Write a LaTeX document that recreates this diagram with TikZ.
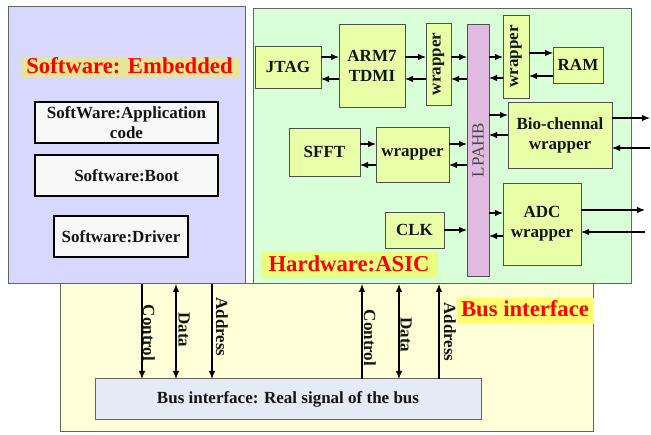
\documentclass[tikz,border=0pt]{standalone}
\usepackage{fontspec}
\setmainfont{Liberation Serif}
\usetikzlibrary{arrows.meta}
\definecolor{swbg}{RGB}{216,216,255}
\definecolor{hwbg}{RGB}{216,255,216}
\definecolor{busbg}{RGB}{255,255,216}
\definecolor{blkfill}{RGB}{232,255,168}
\definecolor{lpfill}{RGB}{224,186,224}
\definecolor{swfill}{RGB}{248,248,248}
\definecolor{innerbus}{RGB}{228,234,246}
\definecolor{frameline}{RGB}{100,100,100}
\definecolor{blkline}{RGB}{80,80,80}
\definecolor{hlsw}{RGB}{230,230,150}
\definecolor{hlhw}{RGB}{232,255,128}
\definecolor{hlbus}{RGB}{255,255,110}
\definecolor{txt}{RGB}{20,20,20}
\definecolor{lptxt}{RGB}{70,70,70}
\newcommand\blkfont{\fontsize{17}{20}\selectfont\bfseries}
\newcommand\redfont{\fontsize{22.7}{26}\selectfont\bfseries}
\begin{document}
\begin{tikzpicture}[x=1pt,y=-1pt,
  every node/.style={inner sep=0pt, outer sep=0pt},
  frame/.style={draw=frameline, line width=1pt},
  blk/.style={draw=blkline, fill=blkfill, line width=0.9pt, font=\blkfont, text=txt, align=center},
  swb/.style={draw=black, fill=swfill, line width=1.5pt, font=\blkfont, text=txt, align=center},
  arr/.style={-{Latex[length=8pt,width=6.5pt]}, line width=1.2pt, draw=black},
  darr/.style={{Latex[length=8pt,width=6.5pt]}-{Latex[length=8pt,width=6.5pt]}, line width=1.2pt, draw=black},
  redlbl/.style={font=\redfont, text=red, anchor=base},
  buslbl/.style={font=\blkfont, text=txt, rotate=-90}]
\useasboundingbox (0,0) rectangle (651,435);
% big frames
\node[frame, fill=busbg, minimum width=533pt, minimum height=148pt] (bus) at (326.5,358) {};
\node[frame, fill=swbg, minimum width=237pt, minimum height=277pt] (sw) at (126.5,145.5) {};
\node[frame, fill=hwbg, minimum width=378pt, minimum height=275pt] (hw) at (442,146.5) {};
% software
\node[fill=hlsw, minimum width=217pt, minimum height=20pt] (swhl) at (130.5,67) {};
\node[redlbl] (swtxt) at (129.5,74) {Software: Embedded};
\node[swb, minimum width=183pt, minimum height=41pt] (app) at (126.5,122.5) {SoftWare:Application\\code};
\node[swb, minimum width=183pt, minimum height=41pt] (boot) at (126.5,175.5) {Software:Boot};
\node[swb, minimum width=134pt, minimum height=41pt] (drv) at (121,236.5) {Software:Driver};
% hardware blocks
\node[blk, minimum width=66pt, minimum height=42pt] (jtag) at (288,67) {JTAG};
\node[blk, minimum width=66pt, minimum height=83pt] (arm) at (372,65.5) {ARM7\\TDMI};
\node[blk, minimum width=25pt, minimum height=82pt] (w1) at (438.5,64) {\rotatebox{90}{wrapper}};
\node[draw=blkline, fill=lpfill, line width=0.9pt, minimum width=22pt, minimum height=252pt,
      font=\fontsize{17}{20}\selectfont, text=lptxt] (lp) at (478,150) {\rotatebox{90}{LPAHB}};
\node[blk, minimum width=26pt, minimum height=83pt] (w2) at (516,56.5) {\rotatebox{90}{wrapper}};
\node[blk, minimum width=50pt, minimum height=36pt] (ram) at (578,65) {RAM};
\node[blk, minimum width=104pt, minimum height=66pt] (bio) at (560,135) {Bio-chennal\\wrapper};
\node[blk, minimum width=71pt, minimum height=48pt] (sfft) at (324.5,152) {SFFT};
\node[blk, minimum width=73pt, minimum height=55pt] (w3) at (412.5,154.5) {wrapper};
\node[blk, minimum width=78pt, minimum height=82pt] (adc) at (542,224) {ADC\\wrapper};
\node[blk, minimum width=59pt, minimum height=36pt] (clk) at (414.5,230) {CLK};
\node[fill=hlhw, minimum width=177pt, minimum height=26pt] (hwhl) at (349.5,265) {};
\node[redlbl] (hwtxt) at (349,272) {Hardware:ASIC};
% hardware arrows
\draw[arr] (jtag.east |- 0,57) -- (arm.west |- 0,57);
\draw[arr] (arm.west |- 0,79) -- (jtag.east |- 0,79);
\draw[arr] (arm.east |- 0,57) -- (w1.west |- 0,57);
\draw[arr] (w1.west |- 0,79) -- (arm.east |- 0,79);
\draw[arr] (w1.east |- 0,57) -- (lp.west |- 0,57);
\draw[arr] (lp.west |- 0,79) -- (w1.east |- 0,79);
\draw[arr] (lp.east |- 0,57) -- (w2.west |- 0,57);
\draw[arr] (w2.west |- 0,78) -- (lp.east |- 0,78);
\draw[arr] (w2.east |- 0,53) -- (ram.west |- 0,53);
\draw[arr] (ram.west |- 0,76) -- (w2.east |- 0,76);
\draw[arr] (lp.east |- 0,115) -- (bio.west |- 0,115);
\draw[arr] (bio.west |- 0,135) -- (lp.east |- 0,135);
\coordinate (bioout) at (650,118);
\coordinate (bioin) at (650,148);
\draw[arr] (bio.east |- bioout) -- (bioout);
\draw[arr] (bioin) -- (bio.east |- bioin);
\draw[arr] (sfft.east |- 0,144) -- (w3.west |- 0,144);
\draw[arr] (w3.west |- 0,165) -- (sfft.east |- 0,165);
\draw[arr] (w3.east |- 0,144) -- (lp.west |- 0,144);
\draw[arr] (lp.west |- 0,165) -- (w3.east |- 0,165);
\draw[arr] (clk.east |- 0,230) -- (lp.west |- 0,230);
\draw[arr] (lp.east |- 0,213) -- (adc.west |- 0,213);
\draw[arr] (adc.west |- 0,236) -- (lp.east |- 0,236);
\coordinate (adcout) at (645,210);
\coordinate (adcin) at (645,232);
\draw[arr] (adc.east |- adcout) -- (adcout);
\draw[arr] (adcin) -- (adc.east |- adcin);
% bus interface
\node[fill=hlbus, minimum width=137pt, minimum height=26pt] (bushl) at (525.5,311) {};
\node[redlbl] (bustxt) at (525,317) {Bus interface};
\node[draw=frameline, fill=innerbus, line width=1pt, minimum width=386pt, minimum height=41pt,
      font=\blkfont, text=txt] (binner) at (288,399.5) {Bus interface: Real signal of the bus};
\draw[arr]  (sw.south -| 142,0) -- (binner.north -| 142,0);
\draw[darr] (sw.south -| 176,0) -- (binner.north -| 176,0);
\draw[arr]  (sw.south -| 212,0) -- (binner.north -| 212,0);
\draw[arr]  (binner.north -| 362,0) -- (hw.south -| 362,0);
\draw[darr] (binner.north -| 399,0) -- (hw.south -| 399,0);
\draw[arr]  (binner.north -| 439,0) -- (hw.south -| 439,0);
\node[buslbl] (c1) at (149,333) {Control};
\node[buslbl] (d1) at (184,330) {Data};
\node[buslbl] (a1) at (222,327) {Address};
\node[buslbl] (c2) at (370,338) {Control};
\node[buslbl] (d2) at (406,335) {Data};
\node[buslbl] (a2) at (450,332) {Address};
\end{tikzpicture}
\end{document}
